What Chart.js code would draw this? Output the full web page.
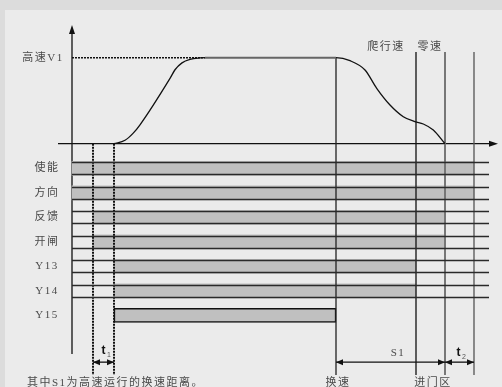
<!DOCTYPE html>
<html>
<head>
<meta charset="utf-8">
<script src="https://cdn.jsdelivr.net/npm/chart.js@4.4.0/dist/chart.umd.min.js"></script>
<style>
html, body { margin: 0; padding: 0; background: #dcdcdc; }
canvas { display: block; }
</style>
</head>
<body>
<canvas id="timingChart" width="502" height="387"></canvas>
<script>
// key instants on the time axis: t1 start, t1 end, 换速, 爬行速, 零速, t2 end
var eventTimes = [21, 42, 264, 344, 373, 402];

// speed curve (fraction of V1) against time
var speedTimes  = [42, 53, 61, 68, 98, 103, 110, 118, 128, 133, 264, 278, 293, 304.7, 318, 331.3, 343, 351.3, 361.3, 373];
var speedValues = [0, 0.04, 0.12, 0.22, 0.76, 0.86, 0.94, 0.98, 0.997, 1, 1, 0.965, 0.857, 0.644, 0.45, 0.314, 0.256, 0.229, 0.159, 0];

// output signals, when each one switches on and off
var signalNames = ["使能", "方向", "反馈", "开闸", "Y13", "Y14", "Y15"];
var signalOn    = [0, 0, 21, 21, 42, 42, 42];
var signalOff   = [402, 402, 373, 373, 344, 344, 264];

// layout
var railEnd = 417;        // right end of the signal rails (time units)
var railRows = 6;         // first rows drawn with rails, Y15 is only a box
var rowHalf = 0.25;
var markTop = 1.066, markBottom = -2.69, dimY = -2.54;
var textFont = '11px "Liberation Serif", "Noto Sans CJK SC", serif';
var textColor = '#4a4a4a';

function pts(xs, ys) {
  return xs.map(function (x, i) { return { x: x, y: ys[i] }; });
}

function vline(t, from, to, color, width, dash) {
  return {
    type: 'line', xAxisID: 'x', yAxisID: 'ySpeed',
    data: [{ x: t, y: from }, { x: t, y: to }],
    borderColor: color, borderWidth: width, borderDash: dash || [],
    pointRadius: 0, fill: false, order: 1
  };
}

function arrowHead(c, x, y, angle, len, half) {
  c.save();
  c.translate(x, y);
  c.rotate(angle);
  c.beginPath();
  c.moveTo(0, 0);
  c.lineTo(-len, -half);
  c.lineTo(-len, half);
  c.closePath();
  c.fill();
  c.restore();
}

function dimension(c, x1, x2, y) {
  c.beginPath();
  c.moveTo(x1, y);
  c.lineTo(x2, y);
  c.stroke();
  arrowHead(c, x1, y, Math.PI, 7, 3);
  arrowHead(c, x2, y, 0, 7, 3);
}

function label(c, text, x, y, align) {
  c.textAlign = align || 'center';
  c.fillText(text, x, y);
}

function tLabel(c, sub, x, y) {
  c.save();
  c.fillStyle = '#111';
  c.font = 'bold 12px "Liberation Sans", sans-serif';
  c.textAlign = 'right';
  c.fillText('t', x, y);
  c.fillStyle = '#555';
  c.font = '7px "Liberation Sans", sans-serif';
  c.textAlign = 'left';
  c.fillText(sub, x + 1.5, y + 3);
  c.restore();
}

var panelPlugin = {
  id: 'panel',
  beforeDraw: function (chart) {
    var c = chart.ctx;
    c.save();
    c.fillStyle = '#dcdcdc';
    c.fillRect(0, 0, chart.width, chart.height);
    c.fillStyle = '#ebebeb';
    c.fillRect(5, 10, chart.width - 5, chart.height - 10);
    c.restore();
  }
};

var axesPlugin = {
  id: 'axes',
  beforeDatasetsDraw: function (chart) {
    var c = chart.ctx, xs = chart.scales.x, ys = chart.scales.ySpeed;
    var x0 = xs.getPixelForValue(0), y0 = ys.getPixelForValue(0);
    var yTop = ys.getPixelForValue(1.381), yBot = ys.getPixelForValue(-2.445);
    var xL = xs.getPixelForValue(-14), xR = xs.getPixelForValue(426);
    c.save();
    c.strokeStyle = '#111';
    c.fillStyle = '#111';
    c.lineWidth = 1.3;
    c.beginPath();
    c.moveTo(x0, yBot); c.lineTo(x0, yTop + 4);
    c.moveTo(xL, y0); c.lineTo(xR - 4, y0);
    c.stroke();
    arrowHead(c, x0, yTop, -Math.PI / 2, 9, 3);
    arrowHead(c, xR, y0, 0, 9, 3);
    c.restore();
  },
  afterDatasetsDraw: function (chart) {
    var c = chart.ctx, xs = chart.scales.x, yr = chart.scales.yRow;
    var xa = xs.getPixelForValue(0), xb = xs.getPixelForValue(railEnd);
    c.save();
    c.strokeStyle = '#2a2a2a';
    c.lineWidth = 1.3;
    c.beginPath();
    for (var i = 0; i < railRows; i++) {
      [i - rowHalf, i + rowHalf].forEach(function (v) {
        var y = Math.round(yr.getPixelForValue(v)) + 0.5;
        c.moveTo(xa, y); c.lineTo(xb, y);
      });
    }
    c.stroke();
    c.restore();
  },
  afterDraw: function (chart) {
    var c = chart.ctx, xs = chart.scales.x, ys = chart.scales.ySpeed, yr = chart.scales.yRow;
    var px = function (t) { return xs.getPixelForValue(t); };
    c.save();
    c.font = textFont;
    c.fillStyle = textColor;
    c.textBaseline = 'middle';
    c.letterSpacing = '1.5px';

    signalNames.forEach(function (name, i) {
      label(c, name, 47, yr.getPixelForValue(i));
    });
    label(c, '高速V1', 43, ys.getPixelForValue(1));
    label(c, '爬行速', px(eventTimes[3]) - 30, 47);
    label(c, '零速', px(eventTimes[3]) + 14, 47);
    label(c, 'S1', px(eventTimes[2]) + 62, 353);
    label(c, '换速', px(eventTimes[2]) + 2, 383);
    label(c, '进门区', px(eventTimes[3]) + 17, 383);
    label(c, '其中S1为高速运行的换速距离。', 27, 383, 'left');
    c.letterSpacing = '0px';

    var yd = ys.getPixelForValue(dimY);
    c.strokeStyle = '#111';
    c.fillStyle = '#111';
    c.lineWidth = 1.3;
    dimension(c, px(eventTimes[0]), px(eventTimes[1]), yd);
    dimension(c, px(eventTimes[2]), px(eventTimes[4]), yd);
    dimension(c, px(eventTimes[4]), px(eventTimes[5]), yd);
    c.textBaseline = 'alphabetic';
    tLabel(c, '1', (px(eventTimes[0]) + px(eventTimes[1])) / 2 + 2, 354);
    tLabel(c, '2', (px(eventTimes[4]) + px(eventTimes[5])) / 2 + 1, 356);
    c.restore();
  }
};

var datasets = [
  {
    type: 'line', xAxisID: 'x', yAxisID: 'ySpeed',
    data: pts(speedTimes, speedValues),
    borderColor: '#111', borderWidth: 1.3,
    cubicInterpolationMode: 'monotone',
    pointRadius: 0, fill: false, order: 0,
    segment: {
      borderColor: function (ctx) {
        return ctx.p0.parsed.y === 1 && ctx.p1.parsed.y === 1 ? '#666' : undefined;
      },
      borderWidth: function (ctx) {
        return ctx.p0.parsed.y === 1 && ctx.p1.parsed.y === 1 ? 2 : undefined;
      }
    }
  },
  {
    type: 'line', xAxisID: 'x', yAxisID: 'ySpeed',
    data: [{ x: 0, y: 1 }, { x: speedTimes[9], y: 1 }],
    borderColor: '#111', borderWidth: 1.5, borderDash: [2, 1],
    pointRadius: 0, fill: false, order: 0
  },
  vline(eventTimes[0], 0, markBottom, '#111', 2, [2, 1]),
  vline(eventTimes[1], 0, markBottom, '#111', 2, [2, 1]),
  vline(eventTimes[2], 1, markBottom, '#222', 1.3),
  vline(eventTimes[3], markTop, markBottom, '#111', 1.3),
  vline(eventTimes[4], markTop, markBottom, '#777', 2),
  vline(eventTimes[5], markTop, markBottom, '#555', 1.3),
  {
    type: 'bar', indexAxis: 'y', xAxisID: 'x', yAxisID: 'yRow',
    data: signalNames.map(function (n, i) {
      return { x: [signalOn[i], signalOff[i]], y: i };
    }),
    backgroundColor: '#c0c0c0',
    borderColor: '#111',
    borderWidth: function (ctx) { return ctx.dataIndex >= railRows ? 1.5 : 0; },
    borderSkipped: false,
    barThickness: 14,
    order: 5
  }
];

new Chart('timingChart', {
  data: { datasets: datasets },
  plugins: [panelPlugin, axesPlugin],
  options: {
    responsive: false,
    animation: false,
    events: [],
    layout: { padding: 0 },
    plugins: { legend: { display: false }, tooltip: { enabled: false } },
    scales: {
      x: { type: 'linear', min: -72, max: 430, display: false },
      ySpeed: { type: 'linear', axis: 'y', min: -2.829, max: 1.671, display: false },
      yRow: { type: 'linear', axis: 'y', min: -5.882, max: 7.939, reverse: true, display: false }
    }
  }
});
</script>
</body>
</html>
